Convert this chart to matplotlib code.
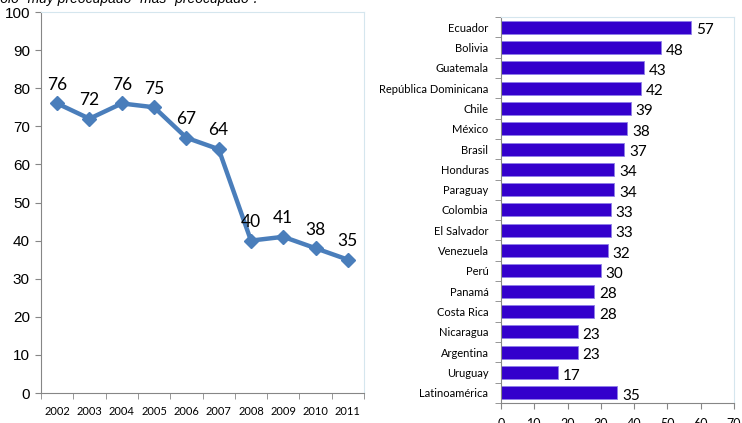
import matplotlib
matplotlib.use('Agg')
import matplotlib.pyplot as plt
import numpy as np

# left panel: trend over time
years = ['2002', '2003', '2004', '2005', '2006', '2007', '2008', '2009', '2010', '2011']
trend = [76, 72, 76, 75, 67, 64, 40, 41, 38, 35]

# right panel: by country
countries = ['Ecuador', 'Bolivia', 'Guatemala', 'República Dominicana', 'Chile', 'México',
             'Brasil', 'Honduras', 'Paraguay', 'Colombia', 'El Salvador', 'Venezuela',
             'Perú', 'Panamá', 'Costa Rica', 'Nicaragua', 'Argentina', 'Uruguay',
             'Latinoamérica']
country_vals = [57, 48, 43, 42, 39, 38, 37, 34, 34, 33, 33, 32, 30, 28, 28, 23, 23, 17, 35]

num_font = ['Lato', 'DejaVu Sans']
border = '#d5e6ee'
line_color = '#4a7ebb'
bar_color = '#3300cc'

fig = plt.figure(figsize=(7.42, 4.23), dpi=100)

fig.text(-0.012, 0.993, 'Sólo "muy preocupado" más "preocupado".', fontsize=10,
         style='italic', family='Liberation Sans', va='baseline', ha='left')

# ---- line chart ----
ax1 = fig.add_axes([0.0553, 0.0709, 0.4353, 0.9007])
x = np.arange(len(years))
ax1.plot(x, trend, color=line_color, lw=3.2, marker='D', ms=7, mec=line_color, mfc=line_color)
for xi, v in zip(x, trend):
    ax1.text(xi, v + 3.6, str(v), ha='center', va='baseline', fontsize=12.5, family=num_font)

ax1.set_xlim(-0.5, len(years) - 0.5)
ax1.set_ylim(0, 100)
ax1.set_yticks(range(0, 101, 10))
ax1.set_yticklabels([str(t) for t in range(0, 101, 10)], fontsize=11, family='Liberation Sans')
ax1.set_xticks(x)
ax1.set_xticklabels(years, fontsize=8, family=num_font)
ax1.set_xticks(np.arange(-0.5, len(years), 1), minor=True)
ax1.tick_params(axis='x', which='major', length=0, pad=9)
ax1.tick_params(axis='x', which='minor', length=4, color='#868686')
ax1.tick_params(axis='y', length=4, color='#868686', pad=4)
ax1.spines['left'].set_color('#868686')
ax1.spines['bottom'].set_color('#868686')
ax1.spines['top'].set_color(border)
ax1.spines['right'].set_color(border)

# ---- bar chart ----
ax2 = fig.add_axes([0.6752, 0.0473, 0.314, 0.9125])
y = np.arange(len(countries))
ax2.barh(y, country_vals, height=0.64, color=bar_color, edgecolor='#8f7fe8', lw=0.6)
for yi, v in zip(y, country_vals):
    ax2.text(v + 1.5, yi + 0.15, str(v), ha='left', va='center', fontsize=11, family=num_font)

ax2.set_xlim(0, 70)
ax2.set_ylim(len(countries) - 0.5, -0.5)
ax2.set_yticks(y)
ax2.set_yticklabels(countries, fontsize=8, family=num_font)
ax2.set_yticks(np.arange(-0.5, len(countries), 1), minor=True)
ax2.tick_params(axis='y', which='major', length=0, pad=9)
ax2.tick_params(axis='y', which='minor', length=4, color='#868686')
ax2.set_xticks(range(0, 71, 10))
ax2.set_xticklabels([str(t) for t in range(0, 71, 10)], fontsize=9, family=num_font)
ax2.tick_params(axis='x', length=4, color='#868686', pad=7)
ax2.spines['left'].set_color('#868686')
ax2.spines['bottom'].set_color('#868686')
ax2.spines['top'].set_color(border)
ax2.spines['right'].set_color(border)

fig.savefig('out.png', dpi=100)
